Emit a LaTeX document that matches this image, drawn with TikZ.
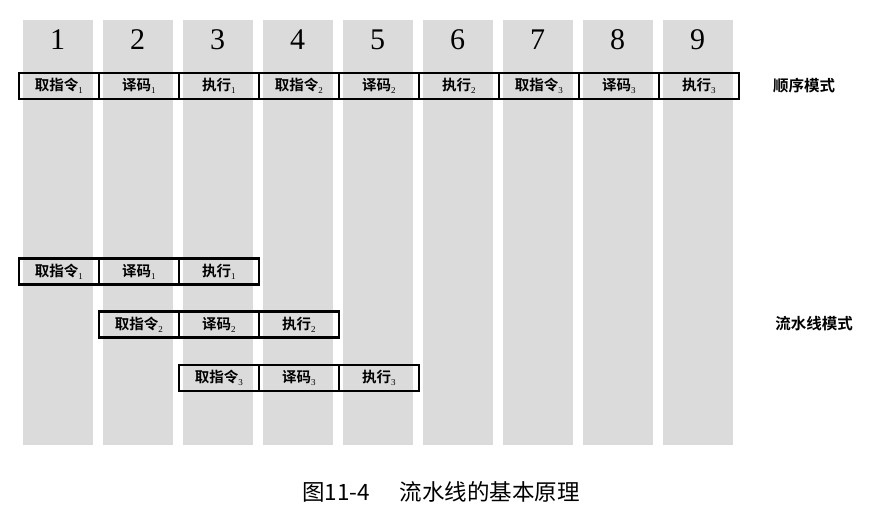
\documentclass[tikz,border=0pt]{standalone}
\usepackage{fontspec}
\setmainfont{Liberation Serif}
\newfontfamily\cjk{Noto Sans CJK SC}
\newfontfamily\cjkb{Noto Sans CJK SC Bold}
\newcommand{\stsub}[1]{\raisebox{-3pt}{\normalfont\fontsize{9}{9}\selectfont #1}}
\begin{document}
\begin{tikzpicture}[x=1pt,y=-1pt,
  colbar/.style={fill=black!14,draw=none},
  stagebox/.style={draw=black,line width=2.1pt,minimum width=80.5pt,minimum height=26pt,inner sep=0pt,font=\cjkb\fontsize{14.5}{15}\selectfont,anchor=west},
  numlab/.style={font=\fontsize{30}{32}\selectfont},
  modelab/.style={font=\cjkb\fontsize{15.5}{17}\selectfont}]
\useasboundingbox (0,0) rectangle (878,517);
\fill[white] (0,0) rectangle (878,517);
\foreach \i in {1,...,9}{
  \fill[colbar] ({23+80*(\i-1)},20) rectangle ({92.5+80*(\i-1)},445);
  \node[numlab] (n\i) at ({57.5+80*(\i-1)},40) {\i};
}
% sequential row
\node[stagebox] (s1) at (17.5,86) {取指令\stsub{1}};
\node[stagebox] (s2) at (97.5,86) {译码\stsub{1}};
\node[stagebox] (s3) at (177.5,86) {执行\stsub{1}};
\node[stagebox] (s4) at (257.5,86) {取指令\stsub{2}};
\node[stagebox] (s5) at (337.5,86) {译码\stsub{2}};
\node[stagebox] (s6) at (417.5,86) {执行\stsub{2}};
\node[stagebox] (s7) at (497.5,86) {取指令\stsub{3}};
\node[stagebox] (s8) at (577.5,86) {译码\stsub{3}};
\node[stagebox] (s9) at (657.5,86) {执行\stsub{3}};
\node[modelab] (seq) at (804,86) {顺序模式};
% pipeline rows
\node[stagebox] (p11) at (17.5,271.5) {取指令\stsub{1}};
\node[stagebox] (p12) at (97.5,271.5) {译码\stsub{1}};
\node[stagebox] (p13) at (177.5,271.5) {执行\stsub{1}};
\node[stagebox] (p21) at (97.5,324.5) {取指令\stsub{2}};
\node[stagebox] (p22) at (177.5,324.5) {译码\stsub{2}};
\node[stagebox] (p23) at (257.5,324.5) {执行\stsub{2}};
\node[stagebox] (p31) at (177.5,378) {取指令\stsub{3}};
\node[stagebox] (p32) at (257.5,378) {译码\stsub{3}};
\node[stagebox] (p33) at (337.5,378) {执行\stsub{3}};
\node[modelab] (pipe) at (814,324) {流水线模式};
\node[font=\cjk\fontsize{22.5}{24}\selectfont] (cap) at (441,492) {图11-4\hspace{1.3em}流水线的基本原理};
\end{tikzpicture}
\end{document}
